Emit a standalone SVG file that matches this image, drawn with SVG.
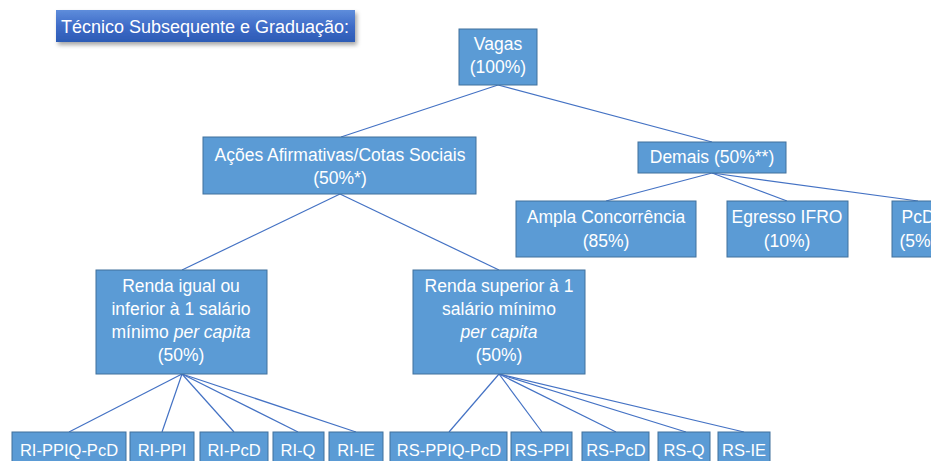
<svg xmlns="http://www.w3.org/2000/svg" width="931" height="461" viewBox="0 0 931 461">
<defs>
<linearGradient id="tg" x1="0" y1="0" x2="0" y2="1">
<stop offset="0" stop-color="#5E8DDB"/>
<stop offset="0.5" stop-color="#3F6CC8"/>
<stop offset="1" stop-color="#2C5BB5"/>
</linearGradient>
<filter id="sh" x="-10%" y="-30%" width="120%" height="180%">
<feDropShadow dx="2" dy="3" stdDeviation="2" flood-color="#000" flood-opacity="0.35"/>
</filter>
</defs>
<style>
.box{fill:#5B9BD5;stroke:#41719C;stroke-width:1}
.t{fill:#fff;font-family:"Liberation Sans",Arial,sans-serif;font-size:17.5px;text-anchor:middle}
.s{font-size:16.5px}
.con line{stroke:#4472C4;stroke-width:1.2}
</style>
<rect width="931" height="461" fill="#fff"/>
<g id="title">
<rect x="56" y="10" width="299" height="32" fill="url(#tg)" filter="url(#sh)"/>
<text x="205" y="33" class="t" style="font-size:18px">Técnico Subsequente e Graduação:</text>
</g>
<g id="connectors" class="con">
<line x1="498" y1="85" x2="341" y2="137"/>
<line x1="498" y1="85" x2="712" y2="142"/>
<line x1="340" y1="194" x2="182" y2="270"/>
<line x1="340" y1="194" x2="499" y2="270"/>
<line x1="712" y1="173" x2="606" y2="201"/>
<line x1="712" y1="173" x2="787" y2="201"/>
<line x1="712" y1="173" x2="918" y2="201"/>
<line x1="182" y1="374" x2="69" y2="432"/>
<line x1="182" y1="374" x2="162" y2="432"/>
<line x1="182" y1="374" x2="234" y2="432"/>
<line x1="182" y1="374" x2="298" y2="432"/>
<line x1="182" y1="374" x2="356" y2="432"/>
<line x1="499" y1="374" x2="449" y2="432"/>
<line x1="499" y1="374" x2="542" y2="432"/>
<line x1="499" y1="374" x2="616" y2="432"/>
<line x1="499" y1="374" x2="686" y2="432"/>
<line x1="499" y1="374" x2="744" y2="432"/>
</g>
<g id="vagas">
<rect class="box" x="459" y="29" width="78" height="56"/>
<text class="t" x="498" y="50">Vagas</text>
<text class="t" x="498" y="73">(100%)</text>
</g>
<g id="acoes">
<rect class="box" x="203" y="137" width="273" height="57"/>
<text class="t" x="340" y="161">Ações Afirmativas/Cotas Sociais</text>
<text class="t" x="340" y="184">(50%*)</text>
</g>
<g id="demais">
<rect class="box" x="638" y="142" width="148" height="31"/>
<text class="t" x="712" y="163">Demais (50%**)</text>
</g>
<g id="ampla">
<rect class="box" x="516" y="201" width="180" height="56"/>
<text class="t" x="606" y="223">Ampla Concorrência</text>
<text class="t" x="606" y="247">(85%)</text>
</g>
<g id="egresso">
<rect class="box" x="727" y="201" width="121" height="56"/>
<text class="t" x="787" y="223">Egresso IFRO</text>
<text class="t" x="787" y="247">(10%)</text>
</g>
<g id="pcd">
<rect class="box" x="892" y="201" width="52" height="56"/>
<text class="t" x="918" y="223">PcD</text>
<text class="t" x="918" y="247">(5%)</text>
</g>
<g id="renda-inferior">
<rect class="box" x="96" y="270" width="171" height="104"/>
<text class="t" x="181" y="292">Renda igual ou</text>
<text class="t" x="181" y="315">inferior à 1 salário</text>
<text class="t" x="181" y="338">mínimo <tspan font-style="italic">per capita</tspan></text>
<text class="t" x="181" y="361">(50%)</text>
</g>
<g id="renda-superior">
<rect class="box" x="413" y="270" width="172" height="104"/>
<text class="t" x="499" y="292">Renda superior à 1</text>
<text class="t" x="499" y="315">salário mínimo</text>
<text class="t" x="499" y="338" font-style="italic">per capita</text>
<text class="t" x="499" y="361">(50%)</text>
</g>
<g id="ri-ppiq-pcd"><rect class="box" x="12" y="432" width="114" height="40"/><text class="t s" x="69" y="456">RI-PPIQ-PcD</text></g>
<g id="ri-ppi"><rect class="box" x="130" y="432" width="64" height="40"/><text class="t s" x="162" y="456">RI-PPI</text></g>
<g id="ri-pcd"><rect class="box" x="200" y="432" width="68" height="40"/><text class="t s" x="234" y="456">RI-PcD</text></g>
<g id="ri-q"><rect class="box" x="273" y="432" width="51" height="40"/><text class="t s" x="298" y="456">RI-Q</text></g>
<g id="ri-ie"><rect class="box" x="329" y="432" width="54" height="40"/><text class="t s" x="356" y="456">RI-IE</text></g>
<g id="rs-ppiq-pcd"><rect class="box" x="390" y="432" width="117" height="40"/><text class="t s" x="449" y="456">RS-PPIQ-PcD</text></g>
<g id="rs-ppi"><rect class="box" x="511" y="432" width="61" height="40"/><text class="t s" x="542" y="456">RS-PPI</text></g>
<g id="rs-pcd"><rect class="box" x="582" y="432" width="67" height="40"/><text class="t s" x="616" y="456">RS-PcD</text></g>
<g id="rs-q"><rect class="box" x="658" y="432" width="52" height="40"/><text class="t s" x="684" y="456">RS-Q</text></g>
<g id="rs-ie"><rect class="box" x="718" y="432" width="52" height="40"/><text class="t s" x="744" y="456">RS-IE</text></g>
</svg>
